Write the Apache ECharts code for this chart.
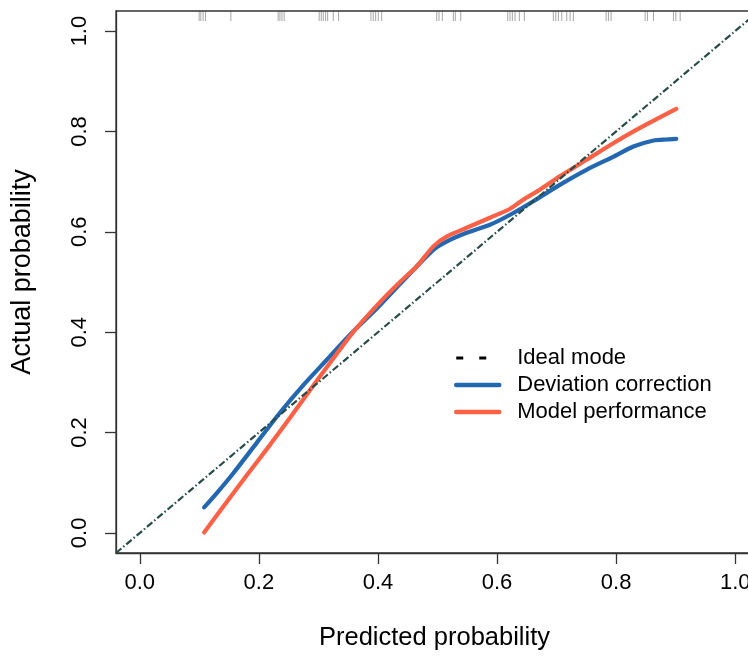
<!DOCTYPE html>
<html>
<head>
<meta charset="utf-8">
<script src="https://cdn.jsdelivr.net/npm/echarts@6/dist/echarts.min.js"></script>
<style>
  html, body { margin: 0; padding: 0; background: #fff; }
  #calib { width: 748px; height: 657px; }
</style>
</head>
<body>
<div id="calib"></div>
<script>
// values
const tickValues = [0, 0.2, 0.4, 0.6, 0.8, 1.0]

const idealLine = [[-0.04, -0.04], [1.04, 1.04]]

const deviationCorrection = [
  [0.108, 0.051], [0.129, 0.079], [0.157, 0.119], [0.196, 0.179],
  [0.235, 0.239], [0.275, 0.295], [0.314, 0.345], [0.353, 0.395],
  [0.398, 0.447], [0.437, 0.496], [0.493, 0.564], [0.516, 0.581],
  [0.549, 0.598], [0.588, 0.614], [0.622, 0.634], [0.661, 0.661],
  [0.706, 0.694], [0.751, 0.724], [0.796, 0.750], [0.829, 0.770],
  [0.863, 0.782], [0.885, 0.784], [0.901, 0.785]
]

const modelPerformance = [
  [0.108, 0.001], [0.140, 0.052], [0.179, 0.114], [0.219, 0.176],
  [0.252, 0.229], [0.286, 0.285], [0.319, 0.338], [0.359, 0.401],
  [0.398, 0.453], [0.437, 0.500], [0.465, 0.531], [0.493, 0.571],
  [0.516, 0.591], [0.549, 0.608], [0.588, 0.628], [0.622, 0.646],
  [0.644, 0.664], [0.672, 0.684], [0.706, 0.711], [0.751, 0.744],
  [0.796, 0.777], [0.840, 0.807], [0.901, 0.845]
]

// rug of predicted values along the top edge
const rugValues = [
  0.0997, 0.1025, 0.1064, 0.1104, 0.1529,
  0.2324, 0.2353, 0.2387, 0.2425,
  0.3013, 0.3047, 0.3081, 0.3121, 0.3155, 0.3249, 0.3339,
  0.3882, 0.3921, 0.3961, 0.4005, 0.4062,
  0.4987, 0.5025, 0.5081, 0.5266, 0.5299, 0.5390,
  0.6180, 0.6218, 0.6257, 0.6303, 0.6375, 0.6459,
  0.6946, 0.6987, 0.7030, 0.7087, 0.7171, 0.7227, 0.7282,
  0.7832, 0.7871, 0.7916,
  0.8487, 0.8526, 0.8627,
  0.8963, 0.9003, 0.9076
]

const chart = echarts.init(document.getElementById('calib'))

const fontFamily = '"Liberation Sans", Arial, sans-serif'

const option = {
  animation: false,
  backgroundColor: '#fff',
  textStyle: { fontFamily: fontFamily, color: '#000' },
  grid: {
    left: 116,
    top: 11,
    width: 643,
    height: 542,
    outerBoundsMode: 'none',
    containLabel: false,
    show: true,
    borderColor: '#333',
    borderWidth: 1.3,
    backgroundColor: 'transparent'
  },
  legend: {
    orient: 'vertical',
    left: 454,
    top: 347,
    padding: 0,
    itemWidth: 43,
    itemHeight: 4,
    itemGap: 5,
    itemStyle: { opacity: 0 },
    textStyle: {
      fontFamily: fontFamily,
      fontSize: 22,
      lineHeight: 22,
      color: '#000',
      padding: [0, 0, 0, 13]
    },
    data: [
      { name: 'Ideal mode', lineStyle: { color: '#000', width: 3, type: [7, 16] } },
      { name: 'Deviation correction', lineStyle: { width: 4.5 } },
      { name: 'Model performance', lineStyle: { width: 4.5 } }
    ]
  },
  xAxis: {
    type: 'value',
    min: -0.04,
    max: 1.04,
    name: 'Predicted probability',
    nameLocation: 'middle',
    nameGap: 72,
    nameTextStyle: { fontSize: 25.5, color: '#000', fontFamily: fontFamily, padding: [0, 6, 0, 0] },
    splitLine: { show: false },
    axisLine: { show: true, onZero: false, lineStyle: { color: '#333', width: 1.3 } },
    axisTick: {
      show: true,
      customValues: tickValues,
      length: 11,
      lineStyle: { color: '#333', width: 1.3 }
    },
    axisLabel: {
      customValues: tickValues,
      margin: 19,
      fontSize: 22,
      color: '#000',
      hideOverlap: false,
      formatter: function (v) { return v.toFixed(1) }
    }
  },
  yAxis: {
    type: 'value',
    min: -0.04,
    max: 1.04,
    name: 'Actual probability',
    nameLocation: 'middle',
    nameRotate: 90,
    nameGap: 80,
    nameTextStyle: { fontSize: 27, color: '#000', fontFamily: fontFamily, padding: [0, 0, 0, 20] },
    splitLine: { show: false },
    axisLine: { show: true, onZero: false, lineStyle: { color: '#333', width: 1.3 } },
    axisTick: {
      show: true,
      customValues: tickValues,
      length: 11,
      lineStyle: { color: '#333', width: 1.3 }
    },
    axisLabel: {
      customValues: tickValues,
      rotate: 90,
      margin: 25,
      fontSize: 22,
      color: '#000',
      formatter: function (v) { return v.toFixed(1) }
    }
  },
  series: [
    {
      name: 'Deviation correction',
      type: 'line',
      data: deviationCorrection,
      smooth: 0.25,
      symbol: 'none',
      lineStyle: { color: '#2467b1', width: 4.2, cap: 'round' },
      itemStyle: { color: '#2467b1' },
      z: 2
    },
    {
      name: 'Model performance',
      type: 'line',
      data: modelPerformance,
      smooth: 0.25,
      symbol: 'none',
      lineStyle: { color: '#fd6145', width: 4.2, cap: 'round' },
      itemStyle: { color: '#fd6145' },
      z: 3
    },
    {
      name: 'Ideal mode',
      type: 'line',
      data: idealLine,
      symbol: 'none',
      lineStyle: { color: '#284c47', width: 2.2, type: [7, 2.5, 1.5, 2.5] },
      itemStyle: { color: '#000' },
      z: 4
    },
    {
      name: 'rug',
      type: 'scatter',
      data: rugValues.map(function (v) { return [v, 1.04] }),
      symbol: 'rect',
      symbolSize: [1, 10],
      symbolOffset: [0, 5],
      itemStyle: { color: 'rgba(70,70,70,0.6)' },
      silent: true,
      z: 1
    }
  ]
}

chart.setOption(option)
</script>
</body>
</html>
